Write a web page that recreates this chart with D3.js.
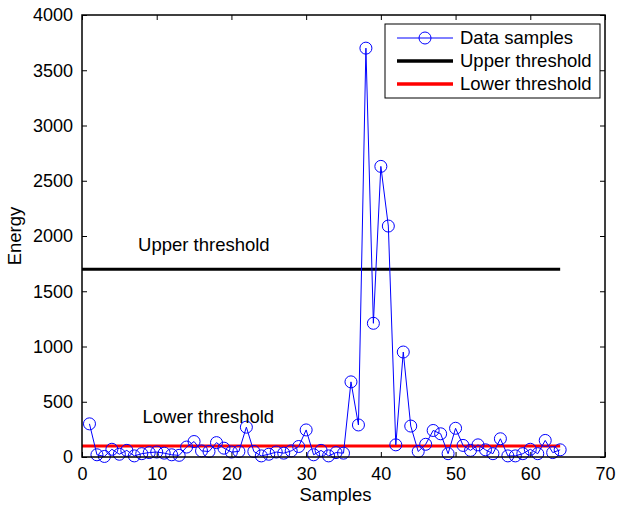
<!DOCTYPE html>
<html>
<head>
<meta charset="utf-8">
<script src="https://cdn.jsdelivr.net/npm/d3@7"></script>
<style>
  body { margin: 0; background: #fff; }
  text { font-family: "Liberation Sans", Arial, sans-serif; }
</style>
</head>
<body>
<div id="chart"></div>
<script>
var samples = d3.range(1, 65);
var energy = [300, 20, 5, 70, 25, 60, 10, 30, 40, 45,
              35, 20, 15, 90, 140, 55, 50, 130, 80, 45,
              50, 270, 50, 10, 25, 45, 35, 55, 95, 245,
              20, 60, 10, 40, 35, 680, 290, 3700, 1210, 2630,
              2090, 110, 950, 280, 50, 115, 240, 210, 30, 260,
              105, 60, 110, 65, 30, 165, 10, 10, 30, 70,
              30, 150, 40, 65];
var upperThreshold = 1700;
var lowerThreshold = 100;
var thresholdSpan = [0, 64];
var xTicks = [0, 10, 20, 30, 40, 50, 60, 70];
var yTicks = [0, 500, 1000, 1500, 2000, 2500, 3000, 3500, 4000];
var legendLabels = ["Data samples", "Upper threshold", "Lower threshold"];

var W = 619, H = 506;
var margin = { top: 15, right: 14, bottom: 49, left: 82 };
var width = W - margin.left - margin.right;
var height = H - margin.top - margin.bottom;
var fs = 18.5, tickFs = 18;

var x = d3.scaleLinear().domain([0, 70]).range([0, width]);
var y = d3.scaleLinear().domain([0, 4000]).range([height, 0]);

var svg = d3.select("#chart").append("svg")
    .attr("width", W).attr("height", H)
    .append("g")
    .attr("transform", `translate(${margin.left}, ${margin.top})`);

// ticks (inside, on all four sides)
function styleAxis(g) {
  g.select(".domain").remove();
  g.selectAll("line").attr("stroke", "#000");
  g.selectAll("text").attr("font-size", tickFs).attr("fill", "#000");
}
svg.append("g").attr("transform", `translate(0, ${height})`)
  .call(d3.axisBottom(x).tickValues(xTicks).tickSizeInner(-5).tickSizeOuter(0).tickPadding(10).tickFormat(d3.format("d")))
  .call(styleAxis);
svg.append("g")
  .call(d3.axisLeft(y).tickValues(yTicks).tickSizeInner(-5).tickSizeOuter(0).tickPadding(9).tickFormat(d3.format("d")))
  .call(styleAxis);
svg.append("g")
  .call(d3.axisTop(x).tickValues(xTicks).tickSizeInner(-5).tickSizeOuter(0).tickFormat(""))
  .call(styleAxis);
svg.append("g").attr("transform", `translate(${width}, 0)`)
  .call(d3.axisRight(y).tickValues(yTicks).tickSizeInner(-5).tickSizeOuter(0).tickFormat(""))
  .call(styleAxis);

// thresholds
svg.append("line")
  .attr("x1", x(thresholdSpan[0])).attr("x2", x(thresholdSpan[1]))
  .attr("y1", y(upperThreshold)).attr("y2", y(upperThreshold))
  .attr("stroke", "#000").attr("stroke-width", 3);
svg.append("line")
  .attr("x1", x(thresholdSpan[0])).attr("x2", x(thresholdSpan[1]))
  .attr("y1", y(lowerThreshold)).attr("y2", y(lowerThreshold))
  .attr("stroke", "#ff0000").attr("stroke-width", 3);

// data
var line = d3.line().x((d, i) => x(samples[i])).y(d => y(d));
svg.append("path").datum(energy)
  .attr("d", line)
  .attr("fill", "none").attr("stroke", "#0000ff").attr("stroke-width", 1);
svg.selectAll(".pt").data(energy).join("circle")
  .attr("class", "pt")
  .attr("cx", (d, i) => x(samples[i])).attr("cy", d => y(d))
  .attr("r", 6)
  .attr("fill", "none").attr("stroke", "#0000ff").attr("stroke-width", 1);

// text annotations
svg.append("text").attr("x", x(7.5)).attr("y", y(1860))
  .attr("font-size", fs).text("Upper threshold");
svg.append("text").attr("x", x(8.1)).attr("y", y(310))
  .attr("font-size", fs).text("Lower threshold");

// box
svg.append("rect").attr("width", width).attr("height", height)
  .attr("fill", "none").attr("stroke", "#000").attr("stroke-width", 1.5);

// axis labels
svg.append("text").attr("x", width / 2 - 8).attr("y", height + 44)
  .attr("text-anchor", "middle").attr("font-size", fs).text("Samples");
svg.append("text")
  .attr("transform", `translate(${-61}, ${height / 2}) rotate(-90)`)
  .attr("text-anchor", "middle").attr("font-size", fs).text("Energy");

// legend
var lg = svg.append("g").attr("transform", `translate(${385 - margin.left}, ${24 - margin.top})`);
lg.append("rect").attr("width", 215).attr("height", 74)
  .attr("fill", "#fff").attr("stroke", "#000").attr("stroke-width", 1);
var legendStyles = [
  { color: "#0000ff", w: 1, marker: true },
  { color: "#000", w: 3.5, marker: false },
  { color: "#ff0000", w: 3.5, marker: false }
];
legendLabels.forEach(function (lab, i) {
  var yy = 14 + i * 23;
  var s = legendStyles[i];
  lg.append("line").attr("x1", 12).attr("x2", 68).attr("y1", yy).attr("y2", yy)
    .attr("stroke", s.color).attr("stroke-width", s.w);
  if (s.marker) {
    lg.append("circle").attr("cx", 40).attr("cy", yy).attr("r", 6)
      .attr("fill", "none").attr("stroke", s.color);
  }
  lg.append("text").attr("x", 75).attr("y", yy + 6)
    .attr("font-size", fs).text(lab);
});
</script>
</body>
</html>
